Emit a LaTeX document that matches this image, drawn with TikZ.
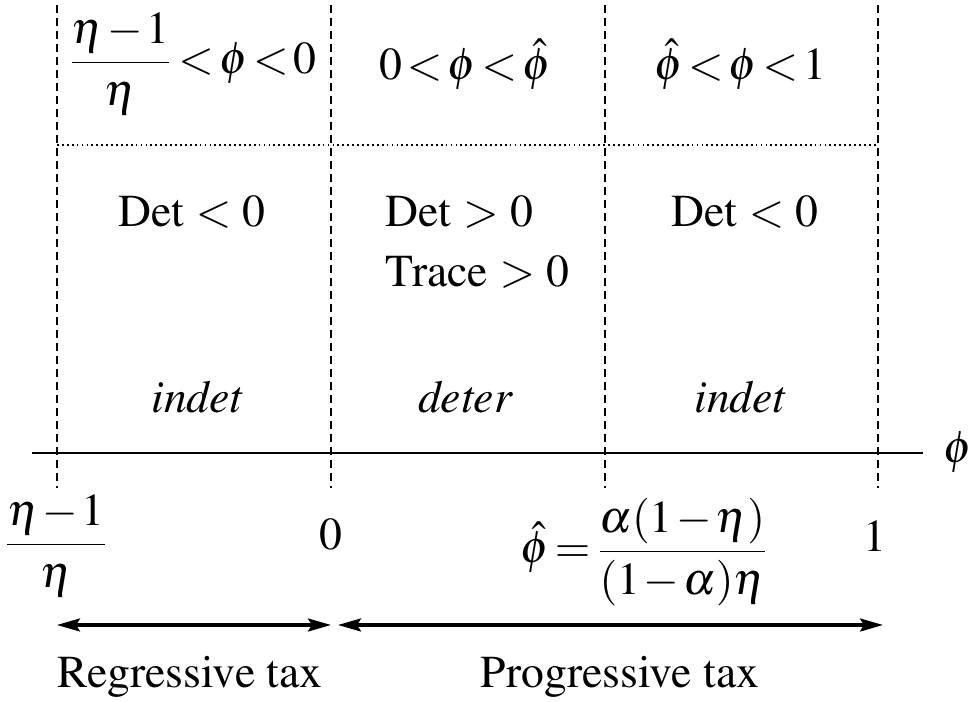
\documentclass[tikz,border=0pt]{standalone}
\usepackage[T1]{fontenc}
\usepackage{mathptmx}
\usetikzlibrary{positioning,arrows.meta}

\begin{document}
\thickmuskip=2mu
\medmuskip=1.5mu
\begin{tikzpicture}[
      x=0.1mm, y=-0.1mm,
      every node/.style = {font=\fontsize{13}{15}\selectfont, inner sep=0pt},
      zone/.style  = {dash pattern=on 2.3pt off 1.4pt, line width=0.75pt},
      split/.style = {dash pattern=on 0.5pt off 0.9pt, line width=0.5pt},
      axis/.style  = {line width=0.65pt},
      span/.style  = {{Stealth[length=2.3mm,width=1.3mm,inset=0.4mm]}-{Stealth[length=2.3mm,width=1.3mm,inset=0.4mm]},
                      line width=0.9pt},
      lbl/.style   = {anchor=base}
    ]
    \useasboundingbox (0,0) rectangle (974,702);

    % region borders
    \foreach \x/\n in {57/neg,331/zero,605/hat,878/one}{
      \coordinate (\n top) at (\x,5);
      \coordinate (\n bot) at (\x,488);
      \draw[zone] (\n top) -- (\n bot);
    }
    \coordinate (dl) at (57,145);
    \coordinate (dr) at (878,145);
    \draw[split] (dl) -- (dr);

    % phi axis
    \coordinate (axl) at (32,453);
    \coordinate (axr) at (923,453);
    \draw[axis] (axl) -- (axr);
    \node (phi) at (958,452) {$\phi$};

    % ranges
    \node[lbl] (r1) at (192,74)  {$\displaystyle\frac{\eta-1}{\eta}<\phi<0$};
    \node[lbl] (r2) at (465,80)  {$0<\phi<\hat{\phi}$};
    \node[lbl] (r3) at (740,80)  {$\hat{\phi}<\phi<1$};

    % conditions
    \node[lbl] (c1) at (192,227) {Det $<$ 0};
    \node[lbl, anchor=base west] (c2) at (385,227) {Det $>$ 0};
    \node[lbl, anchor=base west] (c3) at (385,287) {Trace $>$ 0};
    \node[lbl] (c4) at (745,227) {Det $<$ 0};

    \node[lbl] (s1) at (197,413) {\itshape indet};
    \node[lbl] (s2) at (465,413) {\itshape deter};
    \node[lbl] (s3) at (740,413) {\itshape indet};

    % tick values
    \node[lbl] (v1) at (56,556)  {$\displaystyle\frac{\eta-1}{\eta}$};
    \node[lbl] (v2) at (331,550) {0};
    \node[lbl] (v3) at (645,563) {$\displaystyle\hat{\phi}=\frac{\alpha(1-\eta)}{(1-\alpha)\eta}$};
    \node[lbl] (v4) at (875,552) {1};

    % tax regimes
    \coordinate (al) at (57,625);
    \coordinate (am) at (331,625);
    \coordinate (an) at (338,625);
    \coordinate (ar) at (883,625);
    \draw[span] (al) -- (am);
    \draw[span] (an) -- (ar);
    \node[lbl] (reg) at (190,688) {Regressive tax};
    \node[lbl] (pro) at (620,688) {Progressive tax};
  \end{tikzpicture}
\end{document}
